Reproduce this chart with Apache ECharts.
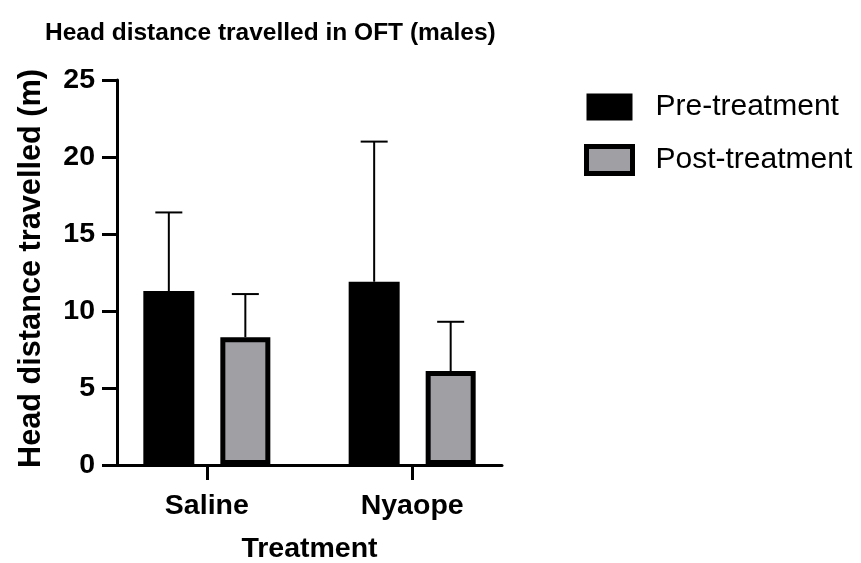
<!DOCTYPE html>
<html><head><meta charset="utf-8">
<script src="https://cdn.jsdelivr.net/npm/echarts@6/dist/echarts.min.js"></script>
<style>html,body{margin:0;padding:0;background:#fff}#c{width:861px;height:563px}</style>
</head><body><div id="c"></div>
<script>
const categories = ['Saline', 'Nyaope'];
const seriesNames = ['Pre-treatment', 'Post-treatment'];
const preMean = [11.3, 11.9];
const preErrHigh = [16.4, 21.0];
const postMean = [8.3, 6.1];
const postErrHigh = [11.1, 9.3];
const yTicks = [0, 5, 10, 15, 20, 25];

const FONT = "'Liberation Sans', Arial, sans-serif";
const PRE_W = 51, POST_W = 50, GAP = 0.51;
const widthSum = PRE_W * (1 + GAP) + POST_W;
const preOff = -widthSum / 2 + PRE_W / 2;
const postOff = -widthSum / 2 + PRE_W * (1 + GAP) + POST_W / 2;
const CAP = 13.5;

function errRender(off) {
  return function (params, api) {
    const x = api.value(0), hi = api.value(1), mean = api.value(2);
    const top = api.coord([x, hi]);
    const base = api.coord([x, mean]);
    const cx = top[0] + off;
    return {
      type: 'group',
      children: [
        { type: 'line', shape: { x1: cx, y1: base[1], x2: cx, y2: top[1] }, style: { stroke: '#000', lineWidth: 2 } },
        { type: 'line', shape: { x1: cx - CAP, y1: top[1], x2: cx + CAP, y2: top[1] }, style: { stroke: '#000', lineWidth: 2 } }
      ]
    };
  };
}

const chart = echarts.init(document.getElementById('c'), null, { renderer: 'canvas' });
chart.setOption({
  animation: false,
  backgroundColor: '#fff',
  title: {
    text: 'Head distance travelled in OFT (males)',
    left: 40, top: 16,
    textStyle: { fontFamily: FONT, fontWeight: 'bold', fontSize: 24.5, color: '#000' }
  },
  legend: {
    orient: 'vertical', left: 579, top: 87,
    itemWidth: 46, itemHeight: 27, itemGap: 22,
    icon: 'rect',
    textStyle: { fontFamily: FONT, fontSize: 30, color: '#000', padding: [0, 0, 0, 18] },
    data: [
      { name: seriesNames[0], itemStyle: { color: '#000', borderWidth: 0 } },
      { name: seriesNames[1], itemStyle: { color: '#a09fa4', borderColor: '#000', borderWidth: 5 } }
    ]
  },
  grid: { left: 117, right: 359, top: 80, bottom: 98, outerBoundsMode: 'none' },
  xAxis: {
    type: 'value', min: -0.4375, max: 1.4375,
    name: 'Treatment', nameLocation: 'middle', nameGap: 70,
    nameTextStyle: { fontFamily: FONT, fontWeight: 'bold', fontSize: 28.5, color: '#000' },
    splitLine: { show: false },
    axisLine: { show: true, onZero: false, lineStyle: { color: '#000', width: 3 } },
    axisTick: { show: true, length: 15, lineStyle: { color: '#000', width: 3 }, customValues: [0, 1] },
    axisLabel: {
      customValues: [0, 1], margin: 27,
      formatter: v => categories[Math.round(v)],
      fontFamily: FONT, fontWeight: 'bold', fontSize: 28.5, color: '#000'
    }
  },
  yAxis: {
    type: 'value', min: 0, max: 25, interval: 5,
    name: 'Head distance travelled (m)', nameLocation: 'middle', nameGap: 70,
    nameTextStyle: { fontFamily: FONT, fontWeight: 'bold', fontSize: 30.7, color: '#000', padding: [0, 0, 0, 8] },
    splitLine: { show: false },
    axisLine: { show: true, onZero: false, lineStyle: { color: '#000', width: 3 } },
    axisTick: { show: true, length: 15, lineStyle: { color: '#000', width: 3 } },
    axisLabel: {
      margin: 22, fontFamily: FONT, fontWeight: 'bold', fontSize: 28.5, color: '#000',
      formatter: v => (yTicks.indexOf(v) >= 0 ? String(v) : '')
    }
  },
  series: [
    {
      name: seriesNames[0], type: 'bar', barWidth: PRE_W, barGap: (GAP * 100) + '%',
      itemStyle: { color: '#000' },
      data: categories.map((c, i) => [i, preMean[i]])
    },
    {
      name: seriesNames[1], type: 'bar', barWidth: POST_W,
      itemStyle: { color: '#a09fa4', borderColor: '#000', borderWidth: 5 },
      data: categories.map((c, i) => [i, postMean[i]])
    },
    {
      name: 'preErr', type: 'custom', renderItem: errRender(preOff), z: 1,
      encode: { x: 0, y: 1 },
      data: categories.map((c, i) => [i, preErrHigh[i], preMean[i]])
    },
    {
      name: 'postErr', type: 'custom', renderItem: errRender(postOff), z: 1,
      encode: { x: 0, y: 1 },
      data: categories.map((c, i) => [i, postErrHigh[i], postMean[i]])
    }
  ]
});
</script>
</body></html>
